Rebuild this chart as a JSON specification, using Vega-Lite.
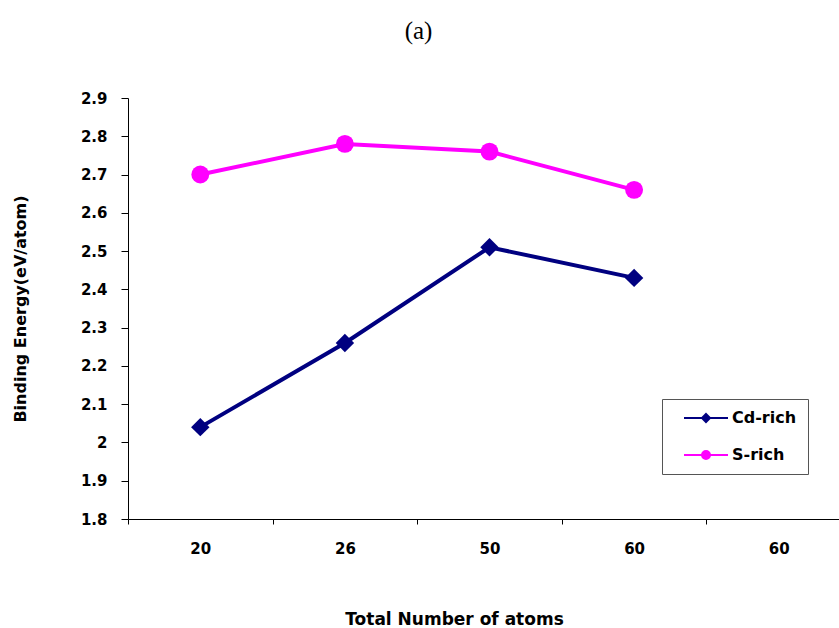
{
  "$schema": "https://vega.github.io/schema/vega-lite/v6.json",
  "width": 711,
  "height": 421,
  "autosize": {"type": "none"},
  "padding": {"left": 128, "top": 98, "right": 0, "bottom": 109},
  "background": "white",
  "title": {
    "text": "(a)",
    "font": "Liberation Serif",
    "fontSize": 25,
    "fontWeight": "normal",
    "color": "black",
    "anchor": "middle",
    "frame": "group",
    "baseline": "alphabetic",
    "offset": 27,
    "dx": -65
  },
  "config": {
    "view": {"stroke": null},
    "axis": {"grid": false, "domainColor": "black", "tickColor": "black", "labelColor": "black", "titleColor": "black", "labelFont": "DejaVu Sans", "labelFontWeight": "bold", "titleFont": "DejaVu Sans", "titleFontWeight": "bold"}
  },
  "data": {
    "values": [
      {"atoms": "20", "series": "Cd-rich", "energy": 2.04},
      {"atoms": "26", "series": "Cd-rich", "energy": 2.26},
      {"atoms": "50", "series": "Cd-rich", "energy": 2.51},
      {"atoms": "60", "series": "Cd-rich", "energy": 2.43},
      {"atoms": "20", "series": "S-rich", "energy": 2.70},
      {"atoms": "26", "series": "S-rich", "energy": 2.78},
      {"atoms": "50", "series": "S-rich", "energy": 2.76},
      {"atoms": "60", "series": "S-rich", "energy": 2.66}
    ]
  },
  "encoding": {
    "x": {
      "field": "atoms",
      "type": "ordinal",
      "scale": {"domain": ["20", "26", "50", "60", "60 "], "range": [0, 723], "paddingInner": 0, "paddingOuter": 0},
      "axis": {
        "title": "Total Number of atoms",
        "labelExpr": "trim(datum.label)",
        "labelAngle": 0,
        "tickBand": "extent",
        "tickSize": 5,
        "labelPadding": 17,
        "labelFontSize": 15,
        "titleFontSize": 17,
        "titleX": 326,
        "titleY": 92,
        "titleAlign": "center",
        "titleBaseline": "top"
      }
    },
    "y": {
      "field": "energy",
      "type": "quantitative",
      "scale": {"domain": [1.8, 2.9], "nice": false, "zero": false},
      "axis": {
        "title": "Binding Energy(eV/atom)",
        "values": [1.8, 1.9, 2.0, 2.1, 2.2, 2.3, 2.4, 2.5, 2.6, 2.7, 2.8, 2.9],
        "format": "~g",
        "tickSize": 7,
        "labelPadding": 14,
        "labelFontSize": 15,
        "titleFontSize": 16,
        "titlePadding": 52
      }
    }
  },
  "layer": [
    {
      "transform": [{"filter": "datum.series === 'Cd-rich'"}],
      "mark": {"type": "line", "strokeWidth": 4, "color": "#000080"}
    },
    {
      "transform": [{"filter": "datum.series === 'S-rich'"}],
      "mark": {"type": "line", "strokeWidth": 4, "color": "#FF00FF"}
    },
    {
      "transform": [{"filter": "datum.series === 'Cd-rich'"}],
      "mark": {"type": "point", "filled": true, "opacity": 1, "size": 340, "shape": "diamond", "color": "#000080"}
    },
    {
      "transform": [{"filter": "datum.series === 'S-rich'"}],
      "mark": {"type": "point", "filled": true, "opacity": 1, "size": 320, "shape": "circle", "color": "#FF00FF"}
    },
    {
      "mark": {"type": "point", "filled": false, "opacity": 0, "size": 100, "strokeWidth": 2},
      "encoding": {
        "color": {
          "field": "series",
          "type": "nominal",
          "scale": {"domain": ["Cd-rich", "S-rich"], "range": ["#000080", "#FF00FF"]},
          "legend": {
            "orient": "none",
            "legendX": 534,
            "legendY": 301,
            "title": null,
            "padding": 11,
            "strokeColor": "#555555",
            "fillColor": "white",
            "symbolSize": 100,
            "symbolOffset": 25,
            "labelOffset": 18,
            "rowPadding": 21,
            "labelFont": "DejaVu Sans",
            "labelFontSize": 16,
            "labelFontWeight": "bold",
            "labelColor": "black",
            "symbolStrokeWidth": 2,
            "symbolOpacity": 1
          }
        },
        "shape": {
          "field": "series",
          "type": "nominal",
          "scale": {
            "domain": ["Cd-rich", "S-rich"],
            "range": [
              "M-4.4,0L4.4,0M0,-0.8L0.8,0L0,0.8L-0.8,0ZM0,-0.4L0.4,0L0,0.4L-0.4,0Z",
              "M-4.4,0L4.4,0M-0.8,0A0.8,0.8,0,1,0,0.8,0A0.8,0.8,0,1,0,-0.8,0ZM-0.4,0A0.4,0.4,0,1,0,0.4,0A0.4,0.4,0,1,0,-0.4,0Z"
            ]
          },
          "legend": {
            "orient": "none",
            "legendX": 534,
            "legendY": 301,
            "title": null,
            "symbolOpacity": 1
          }
        }
      }
    }
  ]
}
